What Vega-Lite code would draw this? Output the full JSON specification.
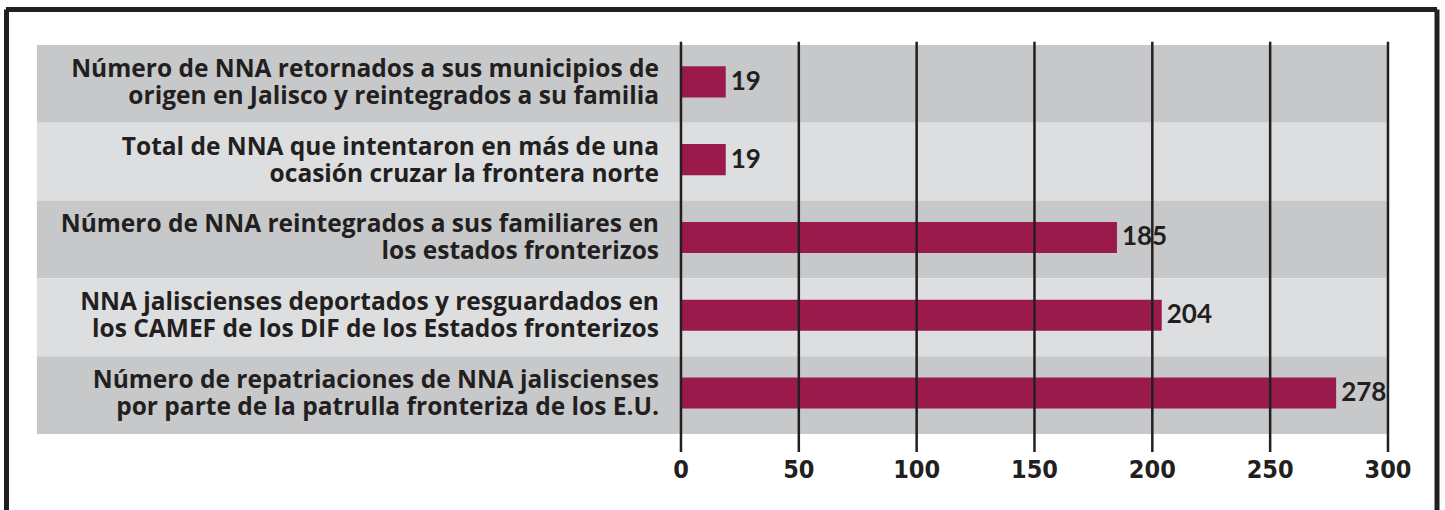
{
  "$schema": "https://vega.github.io/schema/vega-lite/v6.json",
  "width": 1430.5,
  "height": 500.5,
  "padding": {"left": 6.5, "top": 9.5, "right": 8, "bottom": 0},
  "autosize": {"type": "none"},
  "background": "#ffffff",
  "config": {"view": {"stroke": null}},
  "datasets": {
    "rows": [
      {"label": "Número de NNA retornados a sus municipios de\norigen en Jalisco y reintegrados a su familia", "value": 19, "shade": "dark"},
      {"label": "Total de NNA que intentaron en más de una\nocasión cruzar la frontera norte", "value": 19, "shade": "light"},
      {"label": "Número de NNA reintegrados a sus familiares en\nlos estados fronterizos", "value": 185, "shade": "dark"},
      {"label": "NNA jaliscienses deportados y resguardados en\nlos CAMEF de los DIF de los Estados fronterizos", "value": 204, "shade": "light"},
      {"label": "Número de repatriaciones de NNA jaliscienses\npor parte de la patrulla fronteriza de los E.U.", "value": 278, "shade": "dark"}
    ],
    "ticks": [{"t": 0}, {"t": 50}, {"t": 100}, {"t": 150}, {"t": 200}, {"t": 250}, {"t": 300}]
  },
  "layer": [
    {
      "data": {"name": "rows"},
      "encoding": {
        "y": {"field": "label", "type": "nominal", "sort": null,
              "scale": {"paddingInner": 0, "paddingOuter": 0.7166, "align": 0.318},
              "axis": null}
      },
      "layer": [
        {
          "mark": {"type": "rect"},
          "encoding": {
            "x": {"datum": -273.3, "type": "quantitative",
                  "scale": {"domain": [-286.2, 320.8], "nice": false, "zero": false}, "axis": null},
            "x2": {"datum": 300},
            "color": {"field": "shade", "type": "nominal",
                      "scale": {"domain": ["dark", "light"], "range": ["#c7c8ca", "#dddee0"]}, "legend": null}
          }
        },
        {
          "mark": {"type": "bar", "color": "#9a1b4b", "height": {"band": 0.4}, "yOffset": -2},
          "encoding": {
            "x": {"field": "value", "type": "quantitative"},
            "x2": {"datum": 0}
          }
        },
        {
          "mark": {"type": "text", "align": "left", "baseline": "middle", "dx": 5, "dy": -2,
                   "font": "Lato", "fontWeight": "bold", "fontSize": 26, "color": "#231f20"},
          "encoding": {
            "x": {"field": "value", "type": "quantitative"},
            "text": {"field": "value", "type": "quantitative"}
          }
        },
        {
          "mark": {"type": "text", "align": "right", "baseline": "middle", "dx": -22, "dy": -14,
                   "lineBreak": "\n", "lineHeight": 27,
                   "font": "Open Sans", "fontWeight": "bold", "fontSize": 24.5, "color": "#231f20"},
          "encoding": {
            "x": {"datum": 0, "type": "quantitative"},
            "text": {"field": "label", "type": "nominal"}
          }
        }
      ]
    },
    {
      "data": {"name": "ticks"},
      "encoding": {
        "y": {"datum": -0.04, "type": "quantitative",
              "scale": {"domain": [-0.456, 5.977], "reverse": true, "nice": false, "zero": false}, "axis": null}
      },
      "layer": [
        {
          "mark": {"type": "rule", "color": "#231f20", "strokeWidth": 2.5},
          "encoding": {
            "x": {"field": "t", "type": "quantitative"},
            "y2": {"datum": 5.23}
          }
        },
        {
          "mark": {"type": "text", "align": "center", "baseline": "middle",
                   "font": "DejaVu Sans Condensed", "fontWeight": "bold", "fontSize": 25, "color": "#231f20"},
          "encoding": {
            "x": {"field": "t", "type": "quantitative"},
            "y": {"datum": 5.46, "type": "quantitative"},
            "text": {"field": "t", "type": "quantitative"}
          }
        },
        {
          "mark": {"type": "rule", "color": "#231f20", "strokeWidth": 5},
          "encoding": {
            "x": {"datum": -286.2, "type": "quantitative"},
            "y": {"datum": -0.456, "type": "quantitative"},
            "x2": {"datum": 320.8}
          }
        }
      ]
    },
    {
      "data": {"values": [{"side": "left", "pos": -286.2}, {"side": "right", "pos": 320.8}]},
      "mark": {"type": "rule", "color": "#231f20", "strokeWidth": 5},
      "encoding": {
        "x": {"field": "pos", "type": "quantitative"}
      }
    }
  ],
  "resolve": {"scale": {"y": "independent", "color": "independent"}}
}
